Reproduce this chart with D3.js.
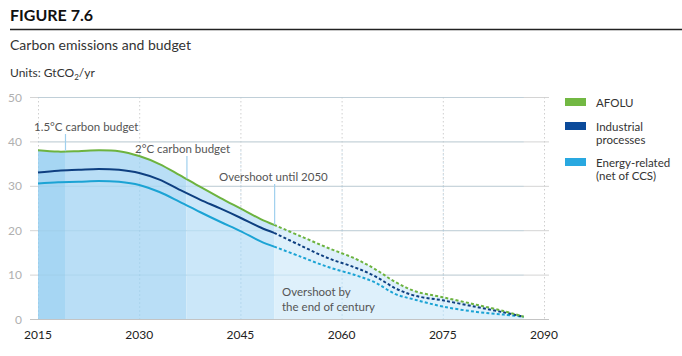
<!DOCTYPE html>
<html><head><meta charset="utf-8">
<script src="https://cdn.jsdelivr.net/npm/d3@7"></script>
<style>
body{margin:0;background:#fff;}
text{font-family:Lato,"Open Sans",sans-serif;}
</style></head>
<body><svg id="c" width="682" height="356"></svg>
<script>
// ---- data ----
const solidYears = [2015,2018,2021,2024,2027,2030,2033,2036,2039,2042,2045,2048,2050];
const afoluSolid = [38.0,37.7,37.8,38.0,37.8,36.7,34.9,32.4,29.8,27.3,24.9,22.5,21.2];
const industrialSolid = [33.0,33.4,33.6,33.8,33.6,32.9,31.4,29.1,26.9,24.9,22.8,20.6,19.4];
const energySolid = [30.5,30.8,30.9,31.1,30.9,30.2,28.6,26.4,24.1,21.9,19.8,17.5,16.3];

const dashYears = [2050,2054,2058,2062,2065,2068,2071,2075,2080,2084,2087];
const afoluDash = [21.2,18.6,16.0,13.6,11.2,8.3,6.2,4.9,3.2,1.8,0.5];
const industrialDash = [19.4,16.5,13.7,11.6,9.6,6.9,5.2,4.2,2.7,1.5,0.5];
const energyDash = [16.3,14.0,11.7,9.9,8.2,5.6,4.3,2.8,1.6,1.0,0.5];

const xTicks = [2015,2030,2045,2060,2075,2090];
const yTicks = [0,10,20,30,40,50];
const bandEdges = [2015,2019,2037,2050,2087];
const bandColors = ["#a6d6f3","#b9def6","#cbe7f9","#def0fb"];

const legendLabels = [["AFOLU"],["Industrial","processes"],["Energy-related","(net of CCS)"]];
const seriesColors = ["#6db33f","#0e3f80","#1ba3d4"];
const legendColors = ["#72b843","#0b4a9a","#29a8e0"];

// ---- layout ----
const svg = d3.select("#c");
const x = d3.scaleLinear().domain([2015,2090]).range([38,544]);
const y = d3.scaleLinear().domain([0,50]).range([319,97]);

// header
svg.append("text").attr("x",10).attr("y",21).attr("font-size",16).attr("font-weight",700).attr("fill","#111").text("FIGURE 7.6");
svg.append("line").attr("x1",10).attr("x2",682).attr("y1",29.5).attr("y2",29.5).attr("stroke","#222").attr("stroke-width",1.6);
svg.append("text").attr("x",10).attr("y",50).attr("font-size",14).attr("fill","#333").text("Carbon emissions and budget");
const u = svg.append("text").attr("x",10).attr("y",77).attr("font-size",12).attr("fill","#333");
u.append("tspan").text("Units: GtCO");
u.append("tspan").attr("font-size",8).attr("dy",3).text("2");
u.append("tspan").attr("dy",-3).text("/yr");

// grid
svg.append("g").selectAll("line").data(yTicks).join("line")
  .attr("x1",30).attr("x2",549).attr("y1",d=>y(d)+0.5).attr("y2",d=>y(d)+0.5)
  .attr("stroke",d=>d===0?"#c4c4c4":"#d4d4d4").attr("stroke-width",1);
svg.append("g").selectAll("line").data(xTicks).join("line")
  .attr("x1",d=>x(d)+0.5).attr("x2",d=>x(d)+0.5).attr("y1",y(50)).attr("y2",y(0))
  .attr("stroke","#cfcfcf").attr("stroke-dasharray","1.5,2.5");

// area bands under total curve
const curve = d3.curveCatmullRom.alpha(0.5);
const allYears = solidYears.concat(dashYears.slice(1));
const allAfolu = afoluSolid.concat(afoluDash.slice(1));
const pts = allYears.map((yr,i)=>[yr,allAfolu[i]]);
const area = d3.area().x(d=>x(d[0])).y0(y(0)).y1(d=>y(d[1])).curve(curve);
const defs = svg.append("defs");
bandColors.forEach((c,i)=>{
  defs.append("clipPath").attr("id","b"+i).append("rect")
    .attr("x",x(bandEdges[i])).attr("width",x(bandEdges[i+1])-x(bandEdges[i])+(i===3?2:0))
    .attr("y",0).attr("height",y(0));
  svg.append("path").datum(pts).attr("d",area).attr("fill",c).attr("clip-path","url(#b"+i+")");
});

// faint grid over fill
svg.append("g").selectAll("line").data(yTicks.filter(d=>d>0)).join("line")
  .attr("x1",x(2015)).attr("x2",x(2087)).attr("y1",d=>y(d)+0.5).attr("y2",d=>y(d)+0.5)
  .attr("stroke","#9cc6df").attr("stroke-opacity",0.35);
svg.append("g").selectAll("line").data(xTicks.slice(0,5)).join("line")
  .attr("x1",d=>x(d)+0.5).attr("x2",d=>x(d)+0.5).attr("y1",y(38)).attr("y2",y(0))
  .attr("stroke","#8fbfdc").attr("stroke-opacity",0.45).attr("stroke-dasharray","1.5,2.5");

// lines
const line = d3.line().x(d=>x(d[0])).y(d=>y(d[1])).curve(curve);
const solids = [afoluSolid,industrialSolid,energySolid];
const dashes = [afoluDash,industrialDash,energyDash];
[2,1,0].forEach(i=>{
  svg.append("path").datum(solidYears.map((yr,j)=>[yr,solids[i][j]])).attr("d",line)
    .attr("fill","none").attr("stroke",seriesColors[i]).attr("stroke-width",2);
  svg.append("path").datum(dashYears.map((yr,j)=>[yr,dashes[i][j]])).attr("d",line)
    .attr("fill","none").attr("stroke",seriesColors[i]).attr("stroke-width",2).attr("stroke-dasharray","3,2.2");
});

// axes labels
svg.append("g").selectAll("text").data(yTicks).join("text")
  .attr("x",22).attr("y",d=>y(d)+4.5).attr("text-anchor","end").attr("font-size",12).attr("fill","#b0b0b0").text(d=>d);
svg.append("g").selectAll("text").data(xTicks).join("text")
  .attr("x",d=>x(d)).attr("y",339).attr("text-anchor","middle").attr("font-size",12).attr("fill","#222").text(d=>d);

// annotations
const ann = svg.append("g").attr("fill","#555").attr("font-size",11.5);
function connector(yr, y1, val){
  svg.append("line").attr("x1",x(yr)+0.5).attr("x2",x(yr)+0.5).attr("y1",y1).attr("y2",y(val))
    .attr("stroke","#9fd0ee").attr("stroke-width",1.2);
}
connector(2019, 134, 37.8);
connector(2037, 156, 31.6);
connector(2050, 184, 21.2);
ann.append("text").attr("x",34).attr("y",131).text("1.5°C carbon budget");
ann.append("text").attr("x",135).attr("y",153).text("2°C carbon budget");
ann.append("text").attr("x",219).attr("y",181).text("Overshoot until 2050");
ann.append("text").attr("x",282).attr("y",296).text("Overshoot by");
ann.append("text").attr("x",282).attr("y",311).text("the end of century");

// legend
const lg = svg.append("g");
const lgY = [98,122,158];
legendLabels.forEach((lab,i)=>{
  lg.append("rect").attr("x",565).attr("y",lgY[i]).attr("width",21).attr("height",8).attr("fill",legendColors[i]);
  lab.forEach((t,k)=>{
    lg.append("text").attr("x",596).attr("y",lgY[i]+9+k*13).attr("font-size",11.5).attr("fill","#333").text(t);
  });
});
</script></body></html>
